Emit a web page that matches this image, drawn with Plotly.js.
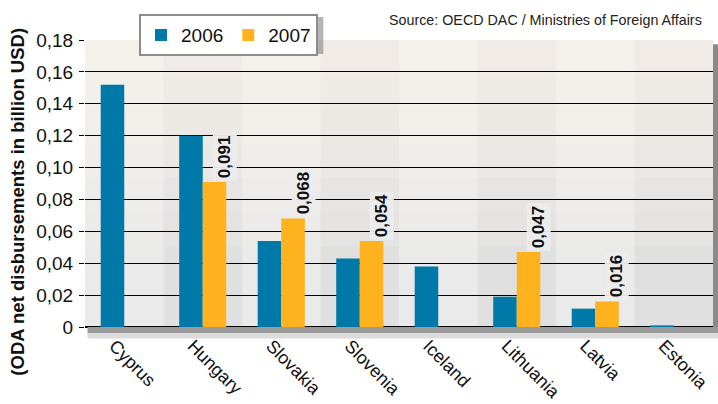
<!DOCTYPE html>
<html>
<head>
<meta charset="utf-8">
<script src="https://cdn.plot.ly/plotly-3.0.1.min.js"></script>
<style>html,body{margin:0;padding:0;background:#fff;}#chart{width:718px;height:404px;}</style>
</head>
<body>
<div id="chart"></div>
<script>
var countries = ["Cyprus","Hungary","Slovakia","Slovenia","Iceland","Lithuania","Latvia","Estonia"];
var values2006 = [0.152, 0.120, 0.054, 0.043, 0.038, 0.019, 0.0115, 0.001];
var values2007 = [null, 0.091, 0.068, 0.054, null, 0.047, 0.016, null];
var labels2007 = ["", "0,091", "0,068", "0,054", "", "0,047", "0,016", ""];
var yTickVals = [0, 0.02, 0.04, 0.06, 0.08, 0.10, 0.12, 0.14, 0.16, 0.18];
var yTickText = ["0","0,02","0,04","0,06","0,08","0,10","0,12","0,14","0,16","0,18"];

var FONT = "'Liberation Sans Narrow', 'Arial Narrow', 'Liberation Sans', sans-serif";
var BLUE = "#0079a8", ORANGE = "#fdb21e";

var traces = [
  {type:"bar", name:"2006", x:countries, y:values2006, marker:{color:BLUE}, hoverinfo:"none"},
  {type:"bar", name:"2007", x:countries, y:values2007, marker:{color:ORANGE}, hoverinfo:"none"}
];

var shapes = [];
for (var i = 0; i < countries.length; i++) {
  shapes.push({type:"rect", xref:"x", yref:"paper", x0:i-0.5, x1:i+0.5, y0:0, y1:1,
    fillcolor: (i % 2 === 1) ? "#e0e0e0" : "#eaeaea", line:{width:0}, layer:"below"});
}
for (var s = 0; s < 6; s++) {
  shapes.push({type:"rect", xref:"paper", yref:"paper", x0:0, x1:1, y0:1 - (s+1)*0.12, y1:1,
    fillcolor:"rgba(252,248,240,0.13)", line:{width:0}, layer:"below"});
}
shapes.push({type:"rect", xref:"paper", yref:"paper", x0:1, x1:1.008, y0:-0.02, y1:0.985,
  fillcolor:"#8a8a8a", line:{width:0}});
shapes.push({type:"rect", xref:"paper", yref:"paper", x0:0.004, x1:1.008, y0:-0.022, y1:0,
  fillcolor:"#9a9a9a", line:{width:0}});
shapes.push({type:"rect", xref:"paper", yref:"paper", x0:0.004, x1:1.008, y0:-0.04, y1:-0.022,
  fillcolor:"#dcdcdc", line:{width:0}});
// legend drop shadow
shapes.push({type:"rect", xref:"paper", yref:"paper", x0:0.0913, x1:0.3795, y0:0.951, y1:1.080,
  fillcolor:"rgba(120,120,120,0.55)", line:{width:0}});

var annotations = [];
for (var j = 0; j < countries.length; j++) {
  if (values2007[j] !== null) {
    annotations.push({x:countries[j], y:values2007[j], xref:"x", yref:"y", text:labels2007[j],
      showarrow:false, textangle:-90, xshift:22, yanchor:"bottom", xanchor:"center", yshift:1,
      font:{family:FONT, size:17, color:"#111", weight:"bold"}, bgcolor:"rgba(236,236,236,0.95)", borderpad:2});
  }
}
annotations.push({xref:"paper", yref:"paper", x:0.985, y:1.07, xanchor:"right", yanchor:"middle",
  text:"Source: OECD DAC / Ministries of Foreign Affairs", showarrow:false,
  font:{family:FONT, size:14.3, color:"#222"}});
annotations.push({xref:"paper", yref:"paper", x:-0.107, y:0.436, xanchor:"center", yanchor:"middle",
  text:"(ODA net disbursements in billion USD)", showarrow:false, textangle:-90,
  font:{family:FONT, size:18.5, color:"#111", weight:"bold"}});

var layout = {
  width:718, height:404,
  margin:{l:85, r:5, t:40, b:77},
  paper_bgcolor:"#ffffff", plot_bgcolor:"#eaeaea",
  separators:", ",
  barmode:"group", bargap:0.4, bargroupgap:0,
  showlegend:true,
  legend:{orientation:"h", x:0.086, xanchor:"left", y:1.09, yanchor:"top",
    bgcolor:"#ffffff", bordercolor:"#8c8c8c", borderwidth:2,
    font:{family:FONT, size:19, color:"#111"}, itemwidth:30,
    traceorder:"normal"},
  xaxis:{type:"category", tickangle:45, showgrid:false, zeroline:false, showline:false,
    ticks:"", ticklabelshift:-10, ticklabelstandoff:4,
    tickfont:{family:FONT, size:18, color:"#111"}, fixedrange:true},
  yaxis:{range:[0,0.18], tickvals:yTickVals, ticktext:yTickText, showgrid:true, gridcolor:"#000", gridwidth:1,
    zeroline:true, zerolinecolor:"#000", zerolinewidth:2, showline:false,
    ticks:"outside", ticklen:5, tickcolor:"#000", tickwidth:1, ticklabelstandoff:2,
    tickfont:{family:FONT, size:19, color:"#111"}, fixedrange:true},
  shapes:shapes,
  annotations:annotations
};

Plotly.newPlot("chart", traces, layout, {displayModeBar:false, staticPlot:true});
</script>
</body>
</html>
